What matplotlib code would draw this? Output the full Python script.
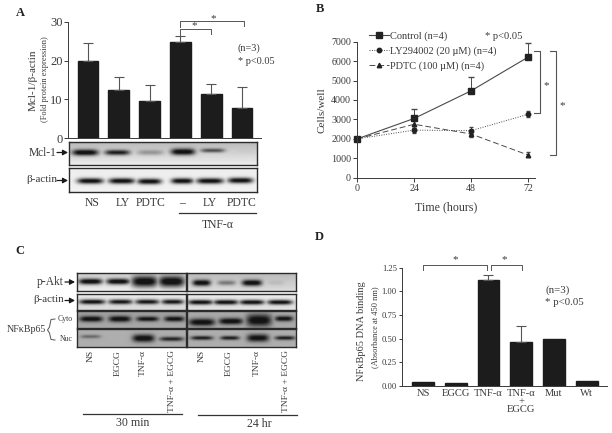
# plot.py
# Four panel figure: Mcl-1 bars + blots, cell growth, blots, NFkB binding bars

import numpy as np
import matplotlib
matplotlib.use("Agg")
import matplotlib.pyplot as plt
from matplotlib.lines import Line2D

plt.rcParams['font.family'] = ['Liberation Serif', 'DejaVu Serif']

W, H = 612, 433
DARK = '#2b2b2b'
TEXT = '#3a3a3a'

# panel A
a_labels = ['NS', 'LY', 'PDTC', '–', 'LY', 'PDTC']
a_values = [20.0, 12.4, 9.7, 24.7, 11.5, 7.8]
a_tops = [24.6, 15.9, 13.6, 26.4, 14.0, 13.2]
a_ticks = [0, 10, 20, 30]

# panel B
b_hours = [0, 24, 48, 72]
b_control = [2000, 3050, 4470, 6200]
b_control_top = [2000, 3530, 5200, 6950]
b_ly = [2000, 2450, 2420, 3260]
b_ly_err = [0, 130, 170, 150]
b_pdtc = [2000, 2750, 2250, 1170]
b_pdtc_err = [0, 200, 130, 130]
b_ticks = [0, 1000, 2000, 3000, 4000, 5000, 6000, 7000]

# panel C lanes
c_lanes = ['NS', 'EGCG', 'TNF-α', 'TNF-α + EGCG']

# panel D
d_labels = ['NS', 'EGCG', 'TNF-α', 'TNF-α\n+\nEGCG', 'Mut', 'Wt']
d_values = [0.035, 0.025, 1.12, 0.465, 0.495, 0.055]
d_tops = [0.035, 0.025, 1.175, 0.635, 0.495, 0.055]
d_ticks = [0.00, 0.25, 0.50, 0.75, 1.00, 1.25]

# band darkness per lane, read by eye
a_mcl = [1.0, .85, .28, 1.0, .6, .02]
a_act = [.95, .95, .95, .95, .95, .95]
c_akt_30 = [1.0, 1.0, 1.0, 1.0]
c_akt_24 = [1.0, .4, 1.0, .08]
c_act_30 = [.95, .9, .9, .9]
c_act_24 = [.95, .95, .95, .95]
c_cyto_30 = [1.0, 1.0, .95, .95]
c_cyto_24 = [1.0, 1.0, 1.0, .95]
c_nuc_30 = [.4, 0, 1.0, .8]
c_nuc_24 = [.85, .85, .95, .85]


def px_axes(fig, left, top, right, bottom):
    return fig.add_axes([left / W, 1 - bottom / H, (right - left) / W, (bottom - top) / H])


def draw_blot(fig, box, strengths, centers, half_w, half_h, yc, bg=(.9, .9)):
    left, top, right, bottom = box
    x = np.arange(left, right, .5)
    y = np.arange(top, bottom, .5)
    xx, yy = np.meshgrid(x, y)
    back = np.linspace(bg[0], bg[1], len(y))[:, None] * np.ones_like(xx)
    img = back.copy()
    for s, c, hw, hh, yy0 in zip(strengths, centers, half_w, half_h, yc):
        band = s * np.exp(-((xx - c) / hw) ** 4) * np.exp(-((yy - yy0) / hh) ** 2)
        img = np.minimum(img, back - (back - .08) * np.clip(band * 1.15, 0, 1))
    ax = px_axes(fig, left, top, right, bottom)
    ax.imshow(img, cmap='gray', vmin=0, vmax=1, aspect='auto',
              extent=[left, right, bottom, top], interpolation='bilinear')
    ax.set_xticks([])
    ax.set_yticks([])
    for s in ax.spines.values():
        s.set_linewidth(1.0)
        s.set_color(DARK)
    return ax


def clean_axes(ax, color=TEXT):
    ax.patch.set_alpha(0)
    ax.spines['top'].set_visible(False)
    ax.spines['right'].set_visible(False)
    ax.spines['left'].set_color(color)
    ax.spines['bottom'].set_color(color)
    ax.spines['left'].set_linewidth(.7)
    ax.spines['bottom'].set_linewidth(.7)


def bracket(ov, x0, x1, ytop, y0, y1, color='#555555', lw=.7):
    ov.plot([x0, x0, x1, x1], [y0, ytop, ytop, y1], color=color, lw=lw)


fig = plt.figure(figsize=(W / 100, H / 100), dpi=100)

# ---- panel A bars
ax_a = px_axes(fig, 68, 21.7, 261, 138.3)
a_x = np.arange(6)
ax_a.bar(a_x, a_values, width=.675, color='#1c1c1c', edgecolor='#1c1c1c')
ax_a.errorbar(a_x, a_values, yerr=[np.zeros(6), np.array(a_tops) - np.array(a_values)],
              fmt='none', ecolor='#555555', elinewidth=.8, capsize=3.6, capthick=.8)
ax_a.set_xlim(-.65, 5.62)
ax_a.set_ylim(0, 30)
ax_a.set_xticks([])
ax_a.set_yticks(a_ticks)
ax_a.tick_params(axis='y', labelsize=9, length=3, width=.7, pad=1, colors=TEXT)
clean_axes(ax_a)

# ---- panel A blots
draw_blot(fig, (69.3, 141.7, 256.7, 165), a_mcl,
          [85.3, 117.3, 150.3, 182.7, 212.3, 245], [13, 12.5, 13, 12, 12, 8],
          [3, 2.6, 2.6, 3.2, 2, 2], [152.7, 152.7, 152.7, 152, 150.7, 152], bg=(.72, .93))
draw_blot(fig, (69.3, 168.3, 256.7, 192.3), a_act,
          [90.3, 121.7, 149.3, 182, 209.7, 240], [13, 13, 12, 11, 13.5, 12.5],
          [2.8] * 6, [181, 181, 181.5, 181, 181, 180.5], bg=(.93, .95))

# ---- panel B lines
line_col = '#4a4a4a'
ax_b = px_axes(fig, 357.3, 41.7, 535, 177.7)
ax_b.errorbar(b_hours, b_pdtc, yerr=b_pdtc_err, color=line_col, lw=.7, ls=(0, (6, 3)), marker='^', ms=3.2,
              mfc='#222222', mec='#222222', capsize=1.6, elinewidth=.7, ecolor=line_col, clip_on=False)
ax_b.errorbar(b_hours, b_ly, yerr=b_ly_err, color=line_col, lw=.7, ls=(0, (1, 1.5)), marker='o', ms=3.2,
              mfc='#222222', mec='#222222', capsize=1.6, elinewidth=.7, ecolor=line_col, clip_on=False)
ax_b.errorbar(b_hours, b_control, yerr=[np.zeros(4), np.array(b_control_top) - np.array(b_control)],
              color=line_col, lw=.8, marker='s', ms=4.1, mfc='#222222', mec='#222222',
              capsize=2, elinewidth=.7, ecolor=line_col, clip_on=False)
ax_b.set_xlim(0, 75)
ax_b.set_ylim(0, 7000)
ax_b.set_xticks(b_hours)
ax_b.set_yticks(b_ticks)
ax_b.tick_params(labelsize=7.2, length=3, width=.7, pad=1.5, colors=TEXT)
ax_b.set_xlabel('Time (hours)', fontsize=8.6, color=TEXT, labelpad=6)
ax_b.set_ylabel('Cells/well', fontsize=8, color=TEXT, labelpad=3)
clean_axes(ax_b)

handles = [
    Line2D([], [], color=line_col, lw=.8, marker='s', ms=4.1, mfc='#222222', mec='#222222'),
    Line2D([], [], color=line_col, lw=.7, ls=(0, (1, 1.5)), marker='o', ms=3.2, mfc='#222222', mec='#222222'),
    Line2D([], [], color=line_col, lw=.7, ls=(0, (6, 3)), marker='^', ms=3.2, mfc='#222222', mec='#222222'),
]
fig.legend(handles, ['Control (n=4)', 'LY294002 (20 µM) (n=4)', 'PDTC (100 µM) (n=4)'],
           loc='upper left', bbox_to_anchor=(369 / W, 1 - 31 / H), bbox_transform=fig.transFigure,
           frameon=False, fontsize=7.5, labelspacing=.52, handlelength=1.9,
           handletextpad=.1, borderpad=0, borderaxespad=0, labelcolor=TEXT)

# ---- panel C blots
left_box, right_box = (76.7, 185.7), (187.3, 296)
draw_blot(fig, (left_box[0], 273, left_box[1], 291.3), c_akt_30,
          [90, 117.7, 144, 171], [11.7, 11.7, 13, 13], [2.8, 2.8, 5.4, 5.4], [282] * 4, bg=(.8, .93))
draw_blot(fig, (right_box[0], 273, right_box[1], 291.3), c_akt_24,
          [201.7, 226.7, 252, 276], [9, 9, 10, 8], [3, 2.4, 3, 2.4], [283.3] * 4, bg=(.72, .86))
draw_blot(fig, (left_box[0], 293.7, left_box[1], 309.7), c_act_30,
          [91.7, 120, 146.7, 172], [13, 12, 12, 11], [2.4] * 4, [301.3] * 4, bg=(.92, .85))
draw_blot(fig, (right_box[0], 293.7, right_box[1], 309.7), c_act_24,
          [200.7, 226, 252, 280], [12.5, 12.5, 12.5, 12.5], [2.4] * 4, [301.7] * 4, bg=(.92, .88))
draw_blot(fig, (left_box[0], 311.3, left_box[1], 328), c_cyto_30,
          [90.7, 119.3, 147, 173.7], [11.5, 11, 11, 10], [2.8, 3, 2.4, 2.6], [319] * 4, bg=(.62, .66))
draw_blot(fig, (right_box[0], 311.3, right_box[1], 328), c_cyto_24,
          [202, 231, 259, 284], [13, 12, 12.5, 9], [3.6, 3.2, 6, 2.6], [322.3, 321.3, 320.3, 318.7], bg=(.66, .66))
draw_blot(fig, (left_box[0], 329, left_box[1], 347), c_nuc_30,
          [90, 120, 143, 171], [10, 5, 11, 12], [1.8, 1, 3.8, 2.2], [336.3, 338, 338, 338.7], bg=(.68, .68))
draw_blot(fig, (right_box[0], 329, right_box[1], 347), c_nuc_24,
          [202, 230, 258, 285], [11, 9.5, 11, 10], [2, 2, 3.8, 2], [337.7] * 4, bg=(.68, .68))

# ---- panel D bars
ax_d = px_axes(fig, 401.7, 267.7, 607, 385.7)
d_x = np.arange(6)
ax_d.bar(d_x, d_values, width=.67, color='#1c1c1c', edgecolor='#1c1c1c')
ax_d.errorbar(d_x[2:4], d_values[2:4], yerr=[[0, 0], np.array(d_tops[2:4]) - np.array(d_values[2:4])],
              fmt='none', ecolor='#555555', elinewidth=.8, capsize=3.6, capthick=.8)
ax_d.set_xlim(-.65, 5.62)
ax_d.set_ylim(0, 1.25)
ax_d.set_xticks(d_x)
ax_d.set_xticklabels(d_labels, linespacing=.82)
ax_d.set_yticks(d_ticks)
ax_d.set_yticklabels(['%.2f' % t for t in d_ticks])
ax_d.tick_params(axis='x', labelsize=7.6, length=0, pad=2.5, colors=TEXT)
ax_d.tick_params(axis='y', labelsize=6.2, length=2.5, width=.7, pad=1, colors=TEXT)
clean_axes(ax_d)

# ---- overlay for labels and brackets, pixel coordinates
ov = fig.add_axes([0, 0, 1, 1])
ov.set_xlim(0, W)
ov.set_ylim(H, 0)
ov.axis('off')
ov.patch.set_alpha(0)


def txt(x, y, s, size=8, ha='center', rot=0, weight='normal', va='center'):
    ov.text(x, y, s, fontsize=size, ha=ha, va=va, rotation=rot,
            color=TEXT if weight == 'normal' else '#222222',
            fontweight=weight, rotation_mode='anchor' if rot else 'default')


def arrow(x0, x1, y):
    ov.annotate('', xy=(x1, y), xytext=(x0, y),
                arrowprops=dict(arrowstyle='-|>,head_length=.3,head_width=.16', color='#1a1a1a',
                                lw=.9, shrinkA=0, shrinkB=0))


# panel letters
txt(20, 13, 'A', 9, weight='bold')
txt(320, 9, 'B', 9, weight='bold')
txt(20, 251, 'C', 9, weight='bold')
txt(319, 237, 'D', 9, weight='bold')

# A text
txt(33, 80, 'Mcl-1/β-actin', 8, rot=90)
txt(45, 79, '(Fold protein expression)', 6, rot=90)
txt(238, 48, '(n=3)', 7.4, ha='left')
txt(238, 61, '* p<0.05', 7.4, ha='left')
bracket(ov, 179.7, 210.5, 28.5, 35, 33.5)
bracket(ov, 179.7, 243.5, 20.5, 27, 26)
txt(194, 26, '*', 8)
txt(213, 18.5, '*', 8)
txt(42.5, 153, 'Mcl-1', 8.3)
arrow(57, 68, 152.5)
txt(42, 179, 'β-actin', 8)
arrow(57, 68, 180.5)
for x, s in zip([92, 123, 151, 182, 210, 242], a_labels):
    txt(x, 203.5, s, 8.4)
ov.plot([179, 256], [213, 213], color='#333333', lw=.9)
txt(218, 224.5, 'TNF-α', 8.4)

# B text
txt(485, 36.5, '* p<0.05', 7.6, ha='left')
ov.plot([534, 540, 540, 534], [51, 51, 112.5, 112.5], color='#555555', lw=.8)
ov.plot([550, 555.5, 555.5, 550], [51, 51, 154.5, 154.5], color='#555555', lw=.8)
txt(546, 86, '*', 8)
txt(562.5, 106, '*', 8)

# C text
txt(50.5, 281.5, 'p-Akt', 8.3)
arrow(65, 75, 282)
txt(49, 299.5, 'β-actin', 7.8)
arrow(65, 75, 300.5)
txt(26, 330, 'NFκBp65', 7.2)
ov.plot([55, 51, 49.5, 47.5, 49.5, 51, 55], [319, 319.5, 327, 330, 333, 339.5, 340], color='#555555', lw=.7)
txt(65, 319, 'Cyto', 5.6)
txt(66, 339, 'Nuc', 5.6)
for xs in ([91, 118, 143, 172], [201.7, 229, 256.7, 286]):
    for x, s in zip(xs, c_lanes):
        ov.text(x, 350, s, fontsize=6.8, ha='center', va='top', rotation=90, color=TEXT)
ov.plot([83, 182], [414, 414], color='#333333', lw=.9)
ov.plot([198, 297], [415, 415], color='#333333', lw=.9)
txt(133, 423, '30 min', 8.6)
txt(259, 424, '24 hr', 8.6)

# D text
txt(361, 331, 'NFκBp65 DNA binding', 7.5, rot=90)
txt(375, 327, '(Absorbance at 450 nm)', 6, rot=90)
txt(545, 290, '(n=3)', 7.8, ha='left')
txt(545, 302.5, '* p<0.05', 7.8, ha='left')
bracket(ov, 423.3, 486.7, 264.5, 270, 270)
bracket(ov, 490.7, 521.7, 264.5, 270, 270)
txt(455, 260, '*', 8)
txt(504, 260, '*', 8)

fig.savefig('out.png', dpi=100)
